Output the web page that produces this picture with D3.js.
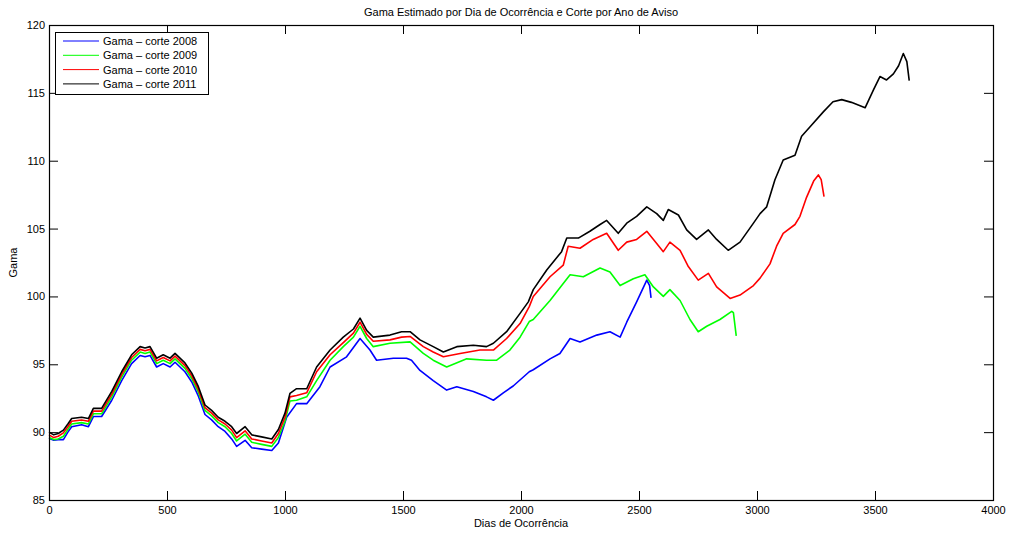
<!DOCTYPE html>
<html><head><meta charset="utf-8">
<script src="https://cdn.jsdelivr.net/npm/d3@7"></script>
<style>body{margin:0;background:#fff}svg{display:block}text{font-family:"Liberation Sans",Arial,sans-serif}</style>
</head><body>
<script>
// Data: [day, gama]
const gama2011 = [[0,90.0],[20,89.8],[39,89.9],[61,90.15],[80,90.6],[96,91.0],[138,91.1],[167,91.0],[188,91.75],[223,91.75],[266,93.0],[308,94.45],[350,95.7],[386,96.3],[407,96.2],[428,96.3],[456,95.45],[484,95.7],[513,95.45],[534,95.8],[576,95.1],[605,94.35],[633,93.35],[661,92.0],[689,91.6],[717,91.1],[746,90.8],[774,90.4],[795,89.9],[831,90.4],[859,89.8],[901,89.65],[944,89.5],[972,90.2],[1000,91.4],[1021,92.85],[1049,93.2],[1092,93.2],[1134,94.8],[1191,96.05],[1247,97.0],[1290,97.6],[1318,98.4],[1346,97.5],[1374,97.0],[1445,97.15],[1494,97.4],[1530,97.4],[1572,96.8],[1628,96.3],[1671,95.9],[1728,96.3],[1798,96.4],[1854,96.3],[1883,96.55],[1939,97.4],[1996,98.75],[2031,99.6],[2052,100.5],[2109,101.95],[2172,103.3],[2194,104.3],[2243,104.3],[2292,104.8],[2335,105.3],[2363,105.6],[2412,104.65],[2448,105.4],[2490,105.9],[2533,106.6],[2575,106.1],[2603,105.6],[2624,106.4],[2667,106.0],[2702,104.9],[2744,104.2],[2794,104.9],[2829,104.2],[2878,103.4],[2928,104.0],[2985,105.4],[3013,106.1],[3041,106.6],[3076,108.6],[3111,110.05],[3161,110.4],[3189,111.8],[3225,112.5],[3281,113.6],[3322,114.35],[3359,114.5],[3400,114.3],[3458,113.9],[3493,115.2],[3521,116.2],[3549,115.95],[3578,116.4],[3600,117.0],[3620,117.9],[3635,117.3],[3645,115.9]];
const gama2010 = [[0,89.8],[20,89.6],[39,89.7],[61,89.95],[80,90.4],[96,90.8],[138,90.9],[167,90.8],[188,91.55],[223,91.55],[266,92.8],[308,94.25],[350,95.5],[386,96.1],[407,96.0],[428,96.1],[456,95.25],[484,95.5],[513,95.25],[534,95.6],[576,94.9],[605,94.15],[633,93.15],[661,91.8],[689,91.4],[717,90.9],[746,90.6],[774,90.15],[795,89.6],[831,90.1],[859,89.5],[901,89.35],[944,89.2],[972,89.9],[1000,91.1],[1021,92.6],[1049,92.7],[1092,92.9],[1134,94.45],[1191,95.7],[1247,96.6],[1290,97.3],[1318,98.1],[1346,97.2],[1374,96.7],[1445,96.8],[1494,97.0],[1530,97.05],[1586,96.3],[1628,95.9],[1671,95.55],[1742,95.8],[1826,96.05],[1883,96.05],[1939,96.9],[1996,98.0],[2035,99.25],[2052,100.0],[2123,101.45],[2179,102.3],[2200,103.7],[2250,103.55],[2306,104.2],[2363,104.65],[2412,103.4],[2448,104.0],[2490,104.2],[2533,104.8],[2575,103.9],[2603,103.3],[2631,104.0],[2674,103.4],[2709,102.2],[2751,101.2],[2794,101.7],[2829,100.7],[2886,99.85],[2928,100.1],[2985,100.8],[3013,101.35],[3055,102.4],[3083,103.7],[3111,104.65],[3161,105.3],[3182,105.9],[3210,107.3],[3240,108.5],[3260,108.95],[3272,108.6],[3284,107.35]];
const gama2009 = [[0,89.6],[20,89.45],[39,89.5],[61,89.7],[80,90.2],[96,90.6],[138,90.7],[167,90.6],[188,91.35],[223,91.35],[266,92.6],[308,94.05],[350,95.3],[386,95.9],[407,95.8],[428,95.9],[456,95.05],[484,95.3],[513,95.05],[534,95.4],[576,94.7],[605,93.95],[633,92.95],[661,91.6],[689,91.2],[717,90.7],[746,90.4],[774,89.9],[795,89.35],[831,89.85],[859,89.25],[901,89.1],[944,88.95],[972,89.6],[1000,90.8],[1021,92.3],[1049,92.35],[1092,92.6],[1134,93.8],[1191,95.3],[1247,96.3],[1290,97.0],[1318,97.8],[1346,96.9],[1374,96.3],[1445,96.55],[1530,96.65],[1586,95.8],[1628,95.3],[1685,94.8],[1770,95.4],[1854,95.3],[1897,95.3],[1953,96.05],[1996,97.0],[2035,98.15],[2052,98.3],[2123,99.7],[2179,100.95],[2208,101.6],[2264,101.45],[2335,102.1],[2377,101.8],[2420,100.8],[2476,101.3],[2525,101.6],[2561,100.7],[2603,100.0],[2631,100.5],[2674,99.7],[2716,98.3],[2751,97.4],[2787,97.8],[2843,98.3],[2893,98.9],[2900,98.8],[2912,97.1]];
const gama2008 = [[0,89.55],[20,89.4],[39,89.45],[61,89.45],[80,90.0],[96,90.4],[138,90.55],[167,90.4],[188,91.15],[223,91.15],[266,92.35],[308,93.8],[350,95.05],[386,95.65],[407,95.55],[428,95.65],[456,94.8],[484,95.05],[513,94.8],[534,95.15],[576,94.45],[605,93.7],[633,92.65],[661,91.3],[689,90.9],[717,90.4],[746,90.05],[774,89.5],[795,88.95],[831,89.4],[859,88.85],[901,88.75],[944,88.65],[972,89.2],[1007,91.1],[1049,92.1],[1092,92.1],[1148,93.35],[1191,94.8],[1261,95.55],[1318,96.9],[1360,96.05],[1388,95.3],[1459,95.45],[1515,95.45],[1536,95.3],[1572,94.55],[1628,93.8],[1685,93.1],[1728,93.35],[1798,93.0],[1854,92.6],[1883,92.35],[1925,92.9],[1967,93.4],[2035,94.45],[2052,94.6],[2123,95.4],[2165,95.8],[2208,96.9],[2250,96.65],[2321,97.15],[2377,97.4],[2420,97.0],[2448,98.1],[2490,99.6],[2533,101.2],[2545,100.8],[2551,99.9]];

const seriesNames = ["Gama \u2013 corte 2008","Gama \u2013 corte 2009","Gama \u2013 corte 2010","Gama \u2013 corte 2011"];
const seriesColors = ["#0000ff","#00ff00","#ff0000","#000000"];
const xTicks = [0,500,1000,1500,2000,2500,3000,3500,4000];
const yTicks = [85,90,95,100,105,110,115,120];
const titleText = "Gama Estimado por Dia de Ocorrência e Corte por Ano de Aviso";
const xLabel = "Dias de Ocorrência";
const yLabel = "Gama";

const W = 1012, H = 534;
const m = {left:49, right:19, top:25, bottom:34};
const svg = d3.select("body").append("svg").attr("width",W).attr("height",H);
const x = d3.scaleLinear().domain([0,4000]).range([m.left, W-m.right]);
const y = d3.scaleLinear().domain([85,120]).range([H-m.bottom, m.top]);

const line = d3.line().x(d=>x(d[0])).y(d=>y(d[1]));
const all = [gama2008,gama2009,gama2010,gama2011];
const g = svg.append("g");
all.forEach((s,i)=>{
  g.append("path").attr("d",line(s)).attr("fill","none")
   .attr("stroke",seriesColors[i]).attr("stroke-width",1.6).attr("stroke-linejoin","round");
});

const fs = 11;
const fmt = d3.format("d");
const tl = 9;
const ax = svg.append("g");
ax.append("g").attr("transform",`translate(0,${H-m.bottom})`)
  .call(d3.axisBottom(x).tickValues(xTicks).tickFormat(fmt).tickSizeInner(-tl).tickSizeOuter(0).tickPadding(6))
  .call(a=>{a.select(".domain").remove();a.selectAll("text").attr("font-size",fs).attr("fill","#000").attr("font-family","Liberation Sans, Arial");});
ax.append("g").attr("transform",`translate(0,${m.top})`)
  .call(d3.axisTop(x).tickValues(xTicks).tickSizeInner(-tl).tickSizeOuter(0).tickFormat(""))
  .call(a=>a.select(".domain").remove());
ax.append("g").attr("transform",`translate(${m.left},0)`)
  .call(d3.axisLeft(y).tickValues(yTicks).tickFormat(fmt).tickSizeInner(-tl).tickSizeOuter(0).tickPadding(4))
  .call(a=>{a.select(".domain").remove();a.selectAll("text").attr("font-size",fs).attr("fill","#000").attr("font-family","Liberation Sans, Arial");});
ax.append("g").attr("transform",`translate(${W-m.right},0)`)
  .call(d3.axisRight(y).tickValues(yTicks).tickSizeInner(-tl).tickSizeOuter(0).tickFormat(""))
  .call(a=>a.select(".domain").remove());
ax.selectAll(".tick line").attr("stroke","#000").attr("stroke-width",1);
ax.append("rect").attr("x",m.left+0.5).attr("y",m.top+0.5)
  .attr("width",W-m.right-m.left).attr("height",H-m.bottom-m.top)
  .attr("fill","none").attr("stroke","#000").attr("stroke-width",1.2);

svg.append("text").attr("x",(m.left+W-m.right)/2).attr("y",16).attr("text-anchor","middle")
  .attr("font-size",fs).text(titleText);
svg.append("text").attr("x",(m.left+W-m.right)/2).attr("y",527).attr("text-anchor","middle")
  .attr("font-size",fs).text(xLabel);
svg.append("text").attr("transform",`translate(17,${(m.top+H-m.bottom)/2}) rotate(-90)`)
  .attr("text-anchor","middle").attr("font-size",fs).text(yLabel);

const lg = svg.append("g");
lg.append("rect").attr("x",55.5).attr("y",32.5).attr("width",153).attr("height",62)
  .attr("fill","#fff").attr("stroke","#000").attr("stroke-width",1);
seriesNames.forEach((n,i)=>{
  const yy = 41 + i*14.3;
  lg.append("line").attr("x1",63).attr("x2",99).attr("y1",yy).attr("y2",yy)
    .attr("stroke",seriesColors[i]).attr("stroke-width",1);
  lg.append("text").attr("x",103).attr("y",yy+4).attr("font-size",fs).text(n);
});
</script>
</body></html>
